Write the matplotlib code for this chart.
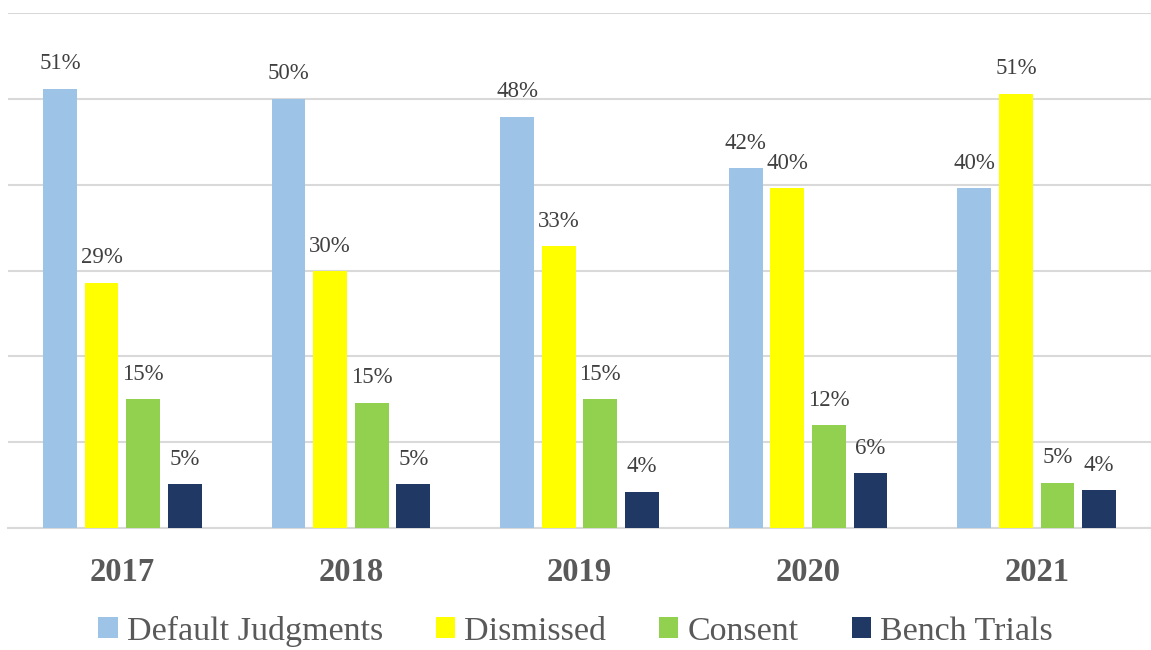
import numpy as np
import matplotlib.pyplot as plt

years = ["2017", "2018", "2019", "2020", "2021"]
series_names = ["Default Judgments", "Dismissed", "Consent", "Bench Trials"]
default_judgments = [51.2, 50.0, 47.9, 41.9, 39.6]
dismissed = [28.6, 29.9, 32.8, 39.6, 50.6]
consent = [15.0, 14.6, 15.0, 12.0, 5.3]
bench_trials = [5.1, 5.1, 4.2, 6.4, 4.4]
labels = [
    ["51%", "50%", "48%", "42%", "40%"],
    ["29%", "30%", "33%", "40%", "51%"],
    ["15%", "15%", "15%", "12%", "5%"],
    ["5%", "5%", "4%", "6%", "4%"],
]
colors = ["#9DC3E6", "#FFFF00", "#92D050", "#1F3864"]

plt.rcParams['font.family'] = ['Liberation Serif', 'DejaVu Serif']

fig = plt.figure(figsize=(11.51, 6.5), dpi=100)
ax = fig.add_axes([8 / 1151, 122 / 650, 1143 / 1151, 515 / 650])

x = np.arange(len(years))
step = 0.182
width = 0.148
data = [default_judgments, dismissed, consent, bench_trials]
for i, (vals, name, col) in enumerate(zip(data, series_names, colors)):
    pos = x + (i - 1.5) * step
    ax.bar(pos, vals, width=width, color=col, label=name, zorder=3)
    for p, v, lab in zip(pos, vals, labels[i]):
        ax.annotate(lab, (p, v), xytext=(0, 18), textcoords="offset points",
                    ha="center", va="center", fontsize=16.5, color="#404040")

ax.set_xlim(-0.5, 4.5)
ax.set_ylim(0, 60)
ax.set_yticks(np.arange(0, 61, 10))
ax.yaxis.grid(True, color="#D9D9D9", linewidth=1.5, zorder=0)
ax.tick_params(axis="y", left=False, labelleft=False)
ax.tick_params(axis="x", length=0, pad=21)
ax.set_xticks(x)
ax.set_xticklabels(years, fontsize=23.5, fontweight="bold", color="#595959")
for s in ["top", "right", "left"]:
    ax.spines[s].set_visible(False)
ax.spines["bottom"].set_color("#D9D9D9")
ax.spines["bottom"].set_linewidth(1.5)

fig.legend(loc="center", bbox_to_anchor=(0.5, 19 / 650), ncol=4,
           frameon=False, fontsize=24.5, labelcolor="#595959",
           handlelength=0.57, handleheight=0.57, handletextpad=0.27,
           columnspacing=1.55)

fig.savefig("out.png", dpi=100)
